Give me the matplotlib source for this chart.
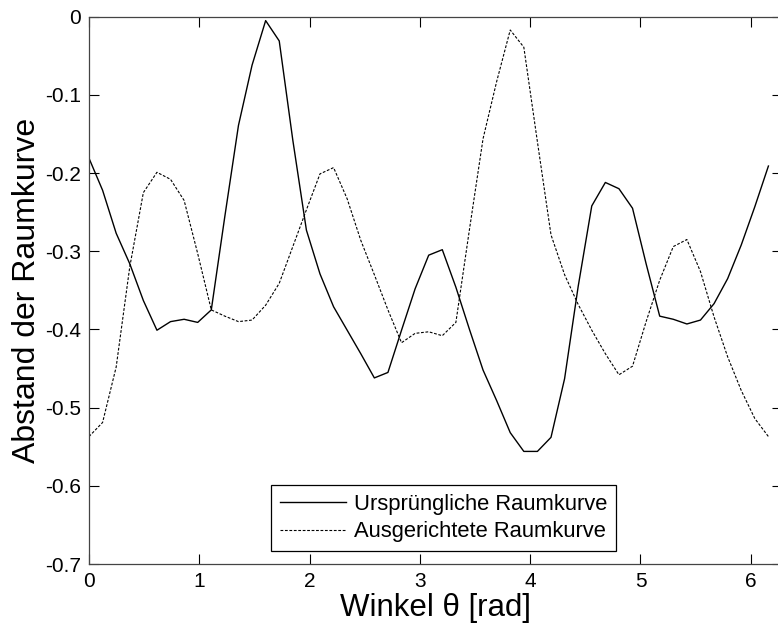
import numpy as np
import matplotlib
matplotlib.use('Agg')
import matplotlib.pyplot as plt

plt.rcParams['font.family'] = ['Liberation Sans', 'DejaVu Sans']
plt.rcParams['axes.unicode_minus'] = False

# 51 samples, step 2*pi/51
n_pts = 51
theta = 2 * np.pi * np.arange(n_pts) / n_pts

urspruenglich = [
    -0.181, -0.222, -0.277, -0.316, -0.363, -0.401, -0.390, -0.387, -0.391, -0.375,
    -0.255, -0.139, -0.062, -0.005, -0.031, -0.158, -0.273, -0.329, -0.371, -0.401,
    -0.431, -0.462, -0.455, -0.401, -0.348, -0.305, -0.298, -0.346, -0.400, -0.452,
    -0.491, -0.532, -0.556, -0.556, -0.538, -0.463, -0.345, -0.242, -0.212, -0.220,
    -0.245, -0.316, -0.383, -0.387, -0.393, -0.388, -0.367, -0.335, -0.292, -0.243,
    -0.191,
]
ausgerichtet = [
    -0.537, -0.519, -0.448, -0.320, -0.225, -0.199, -0.208, -0.235, -0.303, -0.375,
    -0.383, -0.390, -0.388, -0.369, -0.341, -0.294, -0.247, -0.201, -0.193, -0.233,
    -0.286, -0.330, -0.375, -0.417, -0.405, -0.403, -0.408, -0.391, -0.272, -0.156,
    -0.083, -0.017, -0.039, -0.160, -0.279, -0.330, -0.368, -0.401, -0.431, -0.458,
    -0.447, -0.390, -0.337, -0.294, -0.285, -0.326, -0.384, -0.435, -0.478, -0.514,
    -0.537,
]

xticks = [0, 1, 2, 3, 4, 5, 6]
yticks = [0, -0.1, -0.2, -0.3, -0.4, -0.5, -0.6, -0.7]
ytick_labels = ['0', '-0.1', '-0.2', '-0.3', '-0.4', '-0.5', '-0.6', '-0.7']

fig = plt.figure(figsize=(7.78, 6.28), dpi=100)
ax = fig.add_axes([89 / 778, 64 / 628, 693 / 778, 547.3 / 628])

ax.plot(theta, urspruenglich, color='black', lw=1.0, label='Ursprüngliche Raumkurve')
ax.plot(theta, ausgerichtet, color='black', lw=0.8, linestyle=(0, (2.5, 1.5)),
        label='Ausgerichtete Raumkurve')

ax.set_xlim(0, 2 * np.pi)
ax.set_ylim(-0.7, 0)
ax.set_xticks(xticks)
ax.set_yticks(yticks)
ax.set_yticklabels(ytick_labels)
ax.tick_params(direction='in', length=7, width=0.8, top=True, right=True,
               labelsize=15, pad=6)
for s in ax.spines.values():
    s.set_linewidth(0.9)
    s.set_color('#444444')

ax.set_xlabel('Winkel θ [rad]', fontsize=22.5, labelpad=1)
ax.set_ylabel('Abstand der Raumkurve', fontsize=23, labelpad=2)

leg = ax.legend(loc='center', bbox_to_anchor=(0.5115, 0.084), fontsize=15.8,
                frameon=True, fancybox=False, framealpha=1, edgecolor='black',
                handlelength=3.0, borderpad=0.4, labelspacing=0.3, handletextpad=0.35)
leg.get_frame().set_linewidth(0.9)

fig.savefig('out.png', dpi=100)
